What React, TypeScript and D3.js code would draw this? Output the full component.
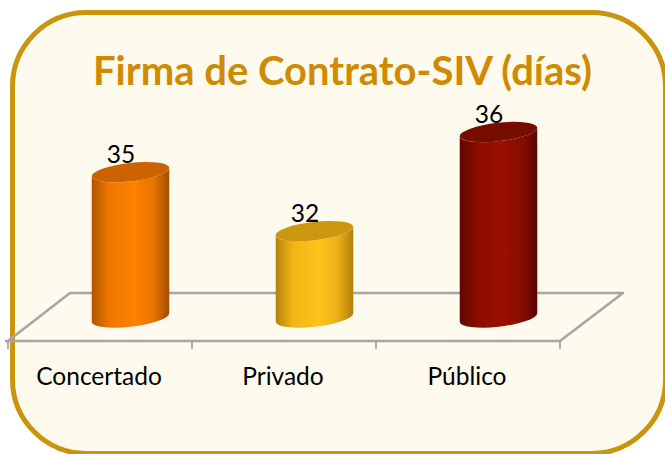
import React from "react";
import * as d3 from "d3";

const categories = ["Concertado", "Privado", "Público"];
const values = [34.5, 32.3, 36];
const title = "Firma de Contrato-SIV (días)";
const bodyEdgeL = ["#B05500", "#B8820A", "#5E0800"];
const bodyShoulderL = ["#EE7700", "#F0B516", "#8A0D00"];
const bodyMid = ["#FF8200", "#FFC31C", "#9C1000"];
const bodyShoulderR = ["#E87300", "#EBB014", "#860C00"];
const bodyEdgeR = ["#A04C00", "#B27F0A", "#560700"];
const topFill = ["#CC6300", "#CB970F", "#770C00"];

const W = 665, H = 454;
const font = "Lato, Carlito, sans-serif";
const x = d3.scaleBand<string>().domain(categories).range([8, 560]);
const y = d3.scaleLinear().domain([29.07, 36]).range([317.5, 132]);
const depthX = 62, depthY = 48;
const floorY = 341;
const a = 39, b = 9.2, rot = -6.5;
const th = (rot * Math.PI) / 180;
const hw = Math.sqrt(a * a * Math.cos(th) ** 2 + b * b * Math.sin(th) ** 2);
const dy = ((a * a - b * b) * Math.sin(th) * Math.cos(th)) / hw;

export default function App() {
  const tickXs = [...categories.map((c) => x(c) as number), 560];
  const floor = d3.line()([
    [5, floorY],
    [8, floorY],
    [8 + depthX, floorY - depthY],
    [560 + depthX + 1, floorY - depthY],
    [560, floorY],
    [5, floorY],
  ]) as string;
  return (
    <svg width={W} height={H} style={{ position: "absolute", left: 0, top: 0, display: "block" }}>
      <defs>
        {categories.map((c, i) => (
          <linearGradient key={c} id={`g${i}`} x1="0" x2="1" y1="0" y2="0">
            <stop offset="0" stopColor={bodyEdgeL[i]} />
            <stop offset="0.22" stopColor={bodyShoulderL[i]} />
            <stop offset="0.55" stopColor={bodyMid[i]} />
            <stop offset="0.8" stopColor={bodyShoulderR[i]} />
            <stop offset="1" stopColor={bodyEdgeR[i]} />
          </linearGradient>
        ))}
      </defs>
      <rect x={12.5} y={12.5} width={653} height={441} rx={74} ry={74} fill="#FEFAEE" stroke="#C9950C" strokeWidth={5} />
      <text x={342.5} y={85} textAnchor="middle" fontFamily={font} fontWeight={700} fontSize={40} fill="#D08A00">
        {title}
      </text>
      <path d={floor} fill="none" stroke="#A6A6A6" strokeWidth={2.6} strokeLinejoin="round" />
      {tickXs.map((t) => (
        <line key={t} x1={t} x2={t} y1={floorY} y2={floorY + 8} stroke="#A6A6A6" strokeWidth={1.8} />
      ))}
      {categories.map((c, i) => {
        const cx = (x(c) as number) + x.bandwidth() / 2 + depthX / 2 - 0.5;
        const ty = y(values[i]);
        const by = y.range()[0];
        const body = `M${cx - hw},${ty - dy} L${cx - hw},${by - dy} A${a},${b} ${rot} 0 0 ${cx + hw},${by + dy} L${cx + hw},${ty + dy} A${a},${b} ${rot} 0 1 ${cx - hw},${ty - dy} Z`;
        return (
          <g key={c}>
            <path d={body} fill={`url(#g${i})`} />
            <ellipse cx={cx} cy={ty} rx={a} ry={b} transform={`rotate(${rot} ${cx} ${ty})`} fill={topFill[i]} />
            <text x={cx - 9.5} y={ty - 9.5} textAnchor="middle" fontFamily={font} fontSize={24.5} fill="#000">
              {Math.round(values[i])}
            </text>
            <text x={(x(c) as number) + x.bandwidth() / 2 - 1} y={385} textAnchor="middle" fontFamily={font} fontSize={24.5} fill="#000">
              {c}
            </text>
          </g>
        );
      })}
    </svg>
  );
}
